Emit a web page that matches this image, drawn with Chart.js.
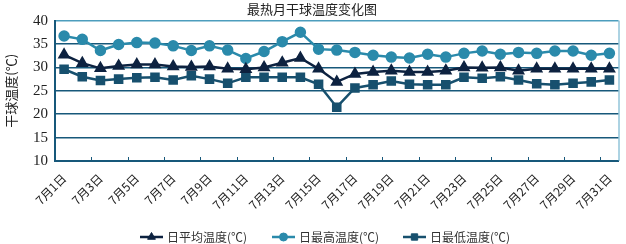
<!DOCTYPE html>
<html>
<head>
<meta charset="utf-8">
<script src="https://cdn.jsdelivr.net/npm/chart.js@4/dist/chart.umd.min.js"></script>
<style>
  html, body { margin: 0; padding: 0; background: #fff; }
  #wrap { width: 626px; height: 244px; }
</style>
</head>
<body>
<div id="wrap"><canvas id="tempChart" width="626" height="244"></canvas></div>
<script>
// Data
const days = ['7月1日', '7月2日', '7月3日', '7月4日', '7月5日', '7月6日', '7月7日', '7月8日',
  '7月9日', '7月10日', '7月11日', '7月12日', '7月13日', '7月14日', '7月15日', '7月16日',
  '7月17日', '7月18日', '7月19日', '7月20日', '7月21日', '7月22日', '7月23日', '7月24日',
  '7月25日', '7月26日', '7月27日', '7月28日', '7月29日', '7月30日', '7月31日'];

const avgTemp = [32.7, 30.9, 29.8, 30.3, 30.6, 30.6, 30.2, 30.1, 30.2, 29.7, 29.6, 30.0, 31.0, 32.0, 29.7, 26.9,
  28.6, 29.0, 29.3, 29.0, 29.0, 29.3, 30.0, 29.9, 30.0, 29.3, 29.7, 29.7, 29.7, 29.7, 29.7];
const maxTemp = [36.7, 36.0, 33.6, 34.9, 35.3, 35.2, 34.6, 33.6, 34.6, 33.7, 31.9, 33.4, 35.5, 37.5, 33.9, 33.7,
  33.2, 32.6, 32.2, 32.0, 32.8, 32.2, 33.0, 33.5, 32.8, 33.2, 33.0, 33.5, 33.5, 32.6, 33.0];
const minTemp = [29.6, 28.0, 27.2, 27.5, 27.8, 27.9, 27.3, 28.2, 27.5, 26.6, 27.9, 27.9, 27.9, 27.9, 26.4, 21.5,
  25.6, 26.3, 27.1, 26.4, 26.3, 26.3, 27.9, 27.7, 28.0, 27.3, 26.5, 26.3, 26.6, 26.9, 27.3];

const seriesNames = ['日平均温度(℃)', '日最高温度(℃)', '日最低温度(℃)'];
const yTicks = [10, 15, 20, 25, 30, 35, 40];

const serif = "'Liberation Serif', 'Noto Sans CJK SC', serif";
const cjk = "'Noto Sans CJK SC', 'Liberation Serif', sans-serif";

// small tick marks on the x axis, right border and the legend
const extrasPlugin = {
  id: 'extras',
  afterDraw(chart) {
    const ctx = chart.ctx;
    const area = chart.chartArea;
    const xs = chart.scales.x;
    const step = xs.getPixelForValue(1) - xs.getPixelForValue(0);

    ctx.save();
    ctx.strokeStyle = '#17587a';
    ctx.lineWidth = 1;
    for (let i = 2; i < days.length; i += 2) {
      const x = Math.round(xs.getPixelForValue(i) - step / 2) + 0.5;
      ctx.beginPath();
      ctx.moveTo(x, area.bottom);
      ctx.lineTo(x, area.bottom - 4);
      ctx.stroke();
    }
    ctx.strokeStyle = '#5aa7c6';
    ctx.beginPath();
    ctx.moveTo(area.right + 0.5, area.top);
    ctx.lineTo(area.right + 0.5, area.bottom);
    ctx.stroke();

    // legend: line + marker + text
    const legendX = [140, 272, 403];
    const legendY = 237;
    chart.data.datasets.forEach((ds, i) => {
      const x0 = legendX[i];
      ctx.strokeStyle = ds.borderColor;
      ctx.fillStyle = ds.borderColor;
      ctx.lineWidth = 2.5;
      ctx.beginPath();
      ctx.moveTo(x0, legendY);
      ctx.lineTo(x0 + 23, legendY);
      ctx.stroke();
      ctx.lineWidth = 1;
      Chart.helpers.drawPoint(ctx, {
        pointStyle: ds.pointStyle,
        radius: ds.pointRadius - 0.5,
        rotation: 0,
        borderWidth: 1
      }, x0 + 11.5, legendY);
      ctx.fillStyle = '#333';
      ctx.font = '12px ' + cjk;
      ctx.textBaseline = 'middle';
      ctx.textAlign = 'left';
      ctx.fillText(ds.label, x0 + 27, legendY);
    });
    ctx.restore();
  }
};

function makeSet(label, data, color, style, radius) {
  return {
    label: label,
    data: data,
    borderColor: color,
    backgroundColor: color,
    pointBackgroundColor: color,
    pointBorderColor: color,
    pointStyle: style,
    pointRadius: radius,
    pointHoverRadius: radius,
    borderWidth: 2.5,
    tension: 0
  };
}

const ctx = document.getElementById('tempChart').getContext('2d');
new Chart(ctx, {
  type: 'line',
  data: {
    labels: days,
    datasets: [
      makeSet(seriesNames[0], avgTemp, '#0d2240', 'triangle', 5),
      makeSet(seriesNames[1], maxTemp, '#2a8aab', 'circle', 4.5),
      makeSet(seriesNames[2], minTemp, '#17506e', 'rect', 5)
    ]
  },
  options: {
    responsive: false,
    animation: false,
    layout: { padding: { left: 0, right: 2, top: 0, bottom: 23 } },
    plugins: {
      legend: { display: false },
      tooltip: { enabled: false },
      title: {
        display: true,
        text: '最热月干球温度变化图',
        color: '#222',
        font: { family: cjk, size: 13, weight: 'normal' },
        padding: { top: 1, bottom: 4 }
      }
    },
    scales: {
      x: {
        offset: true,
        grid: { display: false },
        border: { display: true, color: '#17587a', width: 2 },
        ticks: {
          autoSkip: false,
          maxRotation: 45,
          minRotation: 45,
          padding: 2,
          color: '#222',
          font: { family: cjk, size: 12 },
          callback: function(value, index) {
            return index % 2 === 0 ? days[index] : '';
          }
        },
        afterFit: function(scale) { scale.height = 60; }
      },
      y: {
        min: 10,
        max: 40,
        afterBuildTicks: function(scale) {
          scale.ticks = yTicks.map(v => ({ value: v }));
        },
        grid: {
          drawTicks: false,
          lineWidth: 1.5,
          color: function(c) { return c.tick && c.tick.value === 40 ? '#4c9dbd' : '#17587a'; }
        },
        border: { display: true, color: '#17587a', width: 2 },
        ticks: {
          padding: 7,
          color: '#222',
          font: { family: serif, size: 15 }
        },
        title: {
          display: true,
          text: '干球温度(℃)',
          color: '#222',
          font: { family: cjk, size: 13 },
          padding: { top: 3, bottom: 0 }
        },
        afterFit: function(scale) { scale.width = 55; }
      }
    }
  },
  plugins: [extrasPlugin]
});
</script>
</body>
</html>
